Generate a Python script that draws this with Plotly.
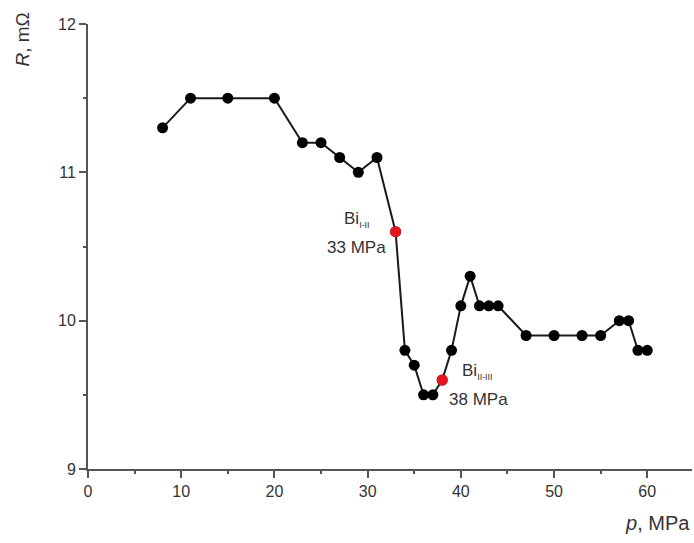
import plotly.graph_objects as go

p_mpa = [8, 11, 15, 20, 23, 25, 27, 29, 31, 33, 34, 35, 36, 37, 38, 39, 40, 41, 42, 43, 44, 47, 50, 53, 55, 57, 58, 59, 60]
r_mohm = [11.3, 11.5, 11.5, 11.5, 11.2, 11.2, 11.1, 11.0, 11.1, 10.6, 9.8, 9.7, 9.5, 9.5, 9.6, 9.8, 10.1, 10.3, 10.1, 10.1, 10.1, 9.9, 9.9, 9.9, 9.9, 10.0, 10.0, 9.8, 9.8]
highlight_p = [33, 38]
highlight_r = [10.6, 9.6]
highlight_phase = ["I-II", "II-III"]
highlight_label = ["33 MPa", "38 MPa"]
x_ticks = [0, 10, 20, 30, 40, 50, 60]
y_ticks = [9, 10, 11, 12]

FONT = "Liberation Sans, Arial, sans-serif"
fig = go.Figure()
fig.add_trace(go.Scatter(
    x=p_mpa, y=r_mohm, mode="lines+markers",
    line=dict(color="#1a1a1a", width=2),
    marker=dict(color="#000000", size=11),
    showlegend=False, cliponaxis=False,
))
fig.add_trace(go.Scatter(
    x=highlight_p, y=highlight_r, mode="markers",
    marker=dict(color="#e8141c", size=11),
    showlegend=False, cliponaxis=False,
))

axis_common = dict(
    showline=True, linecolor="#555555", linewidth=2,
    ticks="outside", ticklen=7, tickwidth=2, tickcolor="#555555",
    showgrid=False, zeroline=False,
    tickfont=dict(family=FONT, size=16, color="#333333"),
)
fig.update_xaxes(range=[0, 64.8], tickvals=x_ticks,
                 minor=dict(ticks="outside", ticklen=3, tickwidth=2, dtick=5, tick0=0, tickcolor="#555555"),
                 **axis_common)
fig.update_yaxes(range=[9, 12], tickvals=y_ticks,
                 minor=dict(ticks="outside", ticklen=3, tickwidth=2, dtick=0.5, tick0=9, tickcolor="#555555"),
                 **axis_common)

ann_font = dict(family=FONT, size=17, color="#333333")
fig.add_annotation(xref="paper", yref="paper", x=-0.11, y=0.964, xanchor="center", yanchor="middle",
                   text="<i>R</i>, mΩ", textangle=-90, showarrow=False,
                   font=dict(family=FONT, size=19, color="#333333"))
fig.add_annotation(xref="paper", yref="paper", x=1.0, y=-0.121, xanchor="right", yanchor="middle",
                   text="<i>p</i>, MPa", showarrow=False, font=dict(family=FONT, size=20, color="#333333"))

# label offsets (pixels) relative to each highlighted point
name_shift = [(-39, 12), (35, 9)]
value_shift = [(-39, -16), (36, -19)]
for i in range(len(highlight_p)):
    fig.add_annotation(x=highlight_p[i], y=highlight_r[i], xanchor="center", yanchor="middle",
                       xshift=name_shift[i][0], yshift=name_shift[i][1],
                       text=f"Bi<sub><span style='font-size:9px'>{highlight_phase[i]}</span></sub>",
                       showarrow=False, font=ann_font)
    fig.add_annotation(x=highlight_p[i], y=highlight_r[i], xanchor="center", yanchor="middle",
                       xshift=value_shift[i][0], yshift=value_shift[i][1],
                       text=highlight_label[i], showarrow=False, font=ann_font)

fig.update_layout(
    width=694, height=543,
    margin=dict(l=88, r=2, t=24, b=74),
    plot_bgcolor="white", paper_bgcolor="white",
    font=dict(family=FONT),
)
fig.write_html("out.html")
